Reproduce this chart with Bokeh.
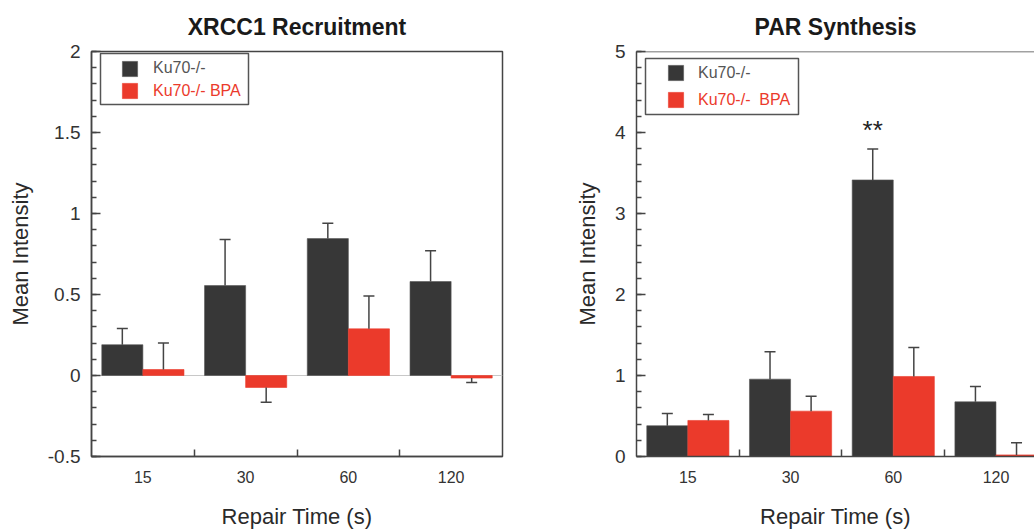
from bokeh.plotting import figure
from bokeh.models import (Range1d, FixedTicker, SingleIntervalTicker, CustomJSTickFormatter,
                          ColumnDataSource, Whisker, TeeHead, Span, Legend, LegendItem,
                          BoxAnnotation)
from bokeh.layouts import row
from bokeh.embed import file_html
from bokeh.resources import INLINE
from bokeh.core.properties import value

# ---------------- data ----------------
categories = ["15", "30", "60", "120"]
series_names = ["Ku70-/-", "Ku70-/- BPA", "Ku70-/-  BPA"]

xrcc1_ku70 = [0.19, 0.555, 0.845, 0.58]
xrcc1_ku70_err = [0.10, 0.285, 0.095, 0.19]
xrcc1_bpa = [0.037, -0.074, 0.288, -0.016]
xrcc1_bpa_err = [0.163, 0.091, 0.202, 0.027]

par_ku70 = [0.38, 0.955, 3.414, 0.675]
par_ku70_err = [0.151, 0.338, 0.383, 0.19]
par_bpa = [0.445, 0.56, 0.988, 0.02]
par_bpa_err = [0.074, 0.185, 0.359, 0.149]
par_marks = ["", "", "**", ""]

# ---------------- style ----------------
FONT = "Liberation Sans"
DARK = "#373737"
RED = "#EB3A2B"
AXIS = "#444444"
TXT = "#2a2a2a"
FRAME_H = 405


def err_sources(xs, vals, errs):
    pos = dict(x=[], lower=[], upper=[])
    neg = dict(x=[], lower=[], upper=[])
    for x, v, e in zip(xs, vals, errs):
        if v >= 0:
            pos["x"].append(x); pos["lower"].append(v); pos["upper"].append(v + e)
        else:
            neg["x"].append(x); neg["lower"].append(v - e); neg["upper"].append(v)
    return ColumnDataSource(pos), ColumnDataSource(neg)


def add_whiskers(p, xs, vals, errs):
    pos, neg = err_sources(xs, vals, errs)
    p.add_layout(Whisker(base="x", lower="lower", upper="upper", source=pos,
                         dimension="height", line_color=AXIS, line_width=1.5,
                         lower_head=None,
                         upper_head=TeeHead(size=11, line_color=AXIS, line_width=1.5),
                         level="annotation"))
    p.add_layout(Whisker(base="x", lower="lower", upper="upper", source=neg,
                         dimension="height", line_color=AXIS, line_width=1.5,
                         upper_head=None,
                         lower_head=TeeHead(size=11, line_color=AXIS, line_width=1.5),
                         level="annotation"))


def make_panel(title, ku, ku_err, bpa, bpa_err, y0, y1, interval, x_end,
               frame_width, mb_left, mb_right, label_red, leg, right_border=True):
    p = figure(x_range=Range1d(0, x_end), y_range=Range1d(y0, y1),
               frame_width=frame_width, frame_height=FRAME_H,
               min_border_left=mb_left, min_border_right=mb_right,
               min_border_top=51, min_border_bottom=75,
               output_backend="svg", toolbar_location=None,
               background_fill_color="white", border_fill_color="white")
    p.xgrid.visible = False
    p.ygrid.visible = False
    if right_border:
        p.outline_line_color = AXIS
        p.outline_line_width = 1.5
        p.outline_line_alpha = 1.0
    else:
        p.outline_line_color = None
        p.add_layout(Span(location=y1, dimension="width", line_color=AXIS, line_width=1.5))

    p.title.text = title
    p.title.align = "center"
    p.title.text_font = FONT
    p.title.text_font_size = "23px"
    p.title.text_font_style = "bold"
    p.title.text_color = "#1a1a1a"
    p.title.standoff = 23

    n = len(categories)
    xc = [i + 0.5 for i in range(n)]
    xk = [x - 0.2 for x in xc]
    xb = [x + 0.2 for x in xc]

    if y0 < 0:
        p.add_layout(Span(location=0, dimension="width", line_color="#c8c8c8",
                          line_width=1, level="underlay"))

    r1 = p.vbar(x=xk, top=ku, bottom=0, width=0.4, fill_color=DARK, line_color="#555555",
                line_width=0.6)
    r2 = p.vbar(x=xb, top=bpa, bottom=0, width=0.4, fill_color=RED, line_color=RED,
                line_width=0.6)
    add_whiskers(p, xk, ku, ku_err)
    add_whiskers(p, xb, bpa, bpa_err)

    # axes
    xa = p.xaxis[0]
    xa.ticker = FixedTicker(ticks=xc, minor_ticks=list(range(1, n)))
    xa.formatter = CustomJSTickFormatter(args=dict(labels=categories),
                                         code="return labels[Math.floor(tick)];")
    xa.major_tick_line_color = None
    xa.major_tick_out = 0
    xa.major_tick_in = 0
    xa.minor_tick_in = 7
    xa.minor_tick_out = 0
    xa.minor_tick_line_color = AXIS
    xa.minor_tick_line_width = 1.5
    xa.axis_line_color = AXIS
    xa.axis_line_width = 1.5
    xa.major_label_text_font = FONT
    xa.major_label_text_font_size = "16px"
    xa.major_label_text_color = "#333333"
    xa.major_label_standoff = 14
    xa.axis_label = "Repair Time (s)"
    xa.axis_label_text_font = FONT
    xa.axis_label_text_font_size = "22px"
    xa.axis_label_text_font_style = "normal"
    xa.axis_label_text_color = TXT
    xa.axis_label_standoff = 18

    ya = p.yaxis[0]
    ya.ticker = SingleIntervalTicker(interval=interval, num_minor_ticks=5)
    ya.formatter = CustomJSTickFormatter(code="return (Math.round(tick*100)/100).toString();")
    ya.major_tick_in = 9
    ya.major_tick_out = 0
    ya.minor_tick_in = 5
    ya.minor_tick_out = 0
    ya.major_tick_line_color = AXIS
    ya.minor_tick_line_color = AXIS
    ya.major_tick_line_width = 1.5
    ya.minor_tick_line_width = 1.5
    ya.axis_line_color = AXIS
    ya.axis_line_width = 1.5
    ya.major_label_text_font = FONT
    ya.major_label_text_font_size = "19px"
    ya.major_label_text_color = "#333333"
    ya.major_label_standoff = 11
    ya.axis_label = "Mean Intensity"
    ya.axis_label_text_font = FONT
    ya.axis_label_text_font_size = "22px"
    ya.axis_label_text_font_style = "normal"
    ya.axis_label_text_color = TXT
    ya.axis_label_standoff = 12

    # legend: frame box + two single-item legends (each with its own text colour)
    bx0, bx1, bb, bt, gx, c1, c2, stand = leg
    p.add_layout(BoxAnnotation(left=bx0, right=bx1, bottom=bb, top=bt,
                               left_units="screen", right_units="screen",
                               bottom_units="screen", top_units="screen",
                               fill_color=None, line_color="#555555", line_width=1.5,
                               line_alpha=1.0, level="annotation"))
    for item_label, rend, color, cy in ((series_names[0], r1, "#555555", c1),
                                        (label_red, r2, RED, c2)):
        lg = Legend(items=[LegendItem(label=item_label, renderers=[rend])],
                    location=(gx, FRAME_H - cy - 9.5), orientation="vertical",
                    border_line_color=None, background_fill_alpha=0,
                    padding=0, margin=0, spacing=0,
                    glyph_width=19, glyph_height=19, label_height=19,
                    label_standoff=stand, label_text_font=FONT,
                    label_text_font_size="16px", label_text_color=color)
        p.add_layout(lg)
    return p, xk


p1, _ = make_panel("XRCC1 Recruitment", xrcc1_ku70, xrcc1_ku70_err, xrcc1_bpa, xrcc1_bpa_err,
                   -0.5, 2, 0.5, 4, 411, 91, 20, series_names[1],
                   (9, 157, 352, 403, 29, 17, 39.7, 14))

p2, xk2 = make_panel("PAR Synthesis", par_ku70, par_ku70_err, par_bpa, par_bpa_err,
                     0, 5, 1, 3.875, 398, 114, 0, series_names[2],
                     (9, 162, 342, 398, 30, 21.8, 48.8, 13), right_border=False)

mark_src = ColumnDataSource(dict(x=xk2, y=[v + e + 0.24 for v, e in zip(par_ku70, par_ku70_err)],
                                 t=par_marks))
p2.text(x="x", y="y", text="t", source=mark_src, text_font=value(FONT),
        text_font_size="26px", text_align="center", text_baseline="alphabetic",
        text_color="#222222")

layout = row(p1, p2)
open("out.html", "w").write(file_html(layout, INLINE))
